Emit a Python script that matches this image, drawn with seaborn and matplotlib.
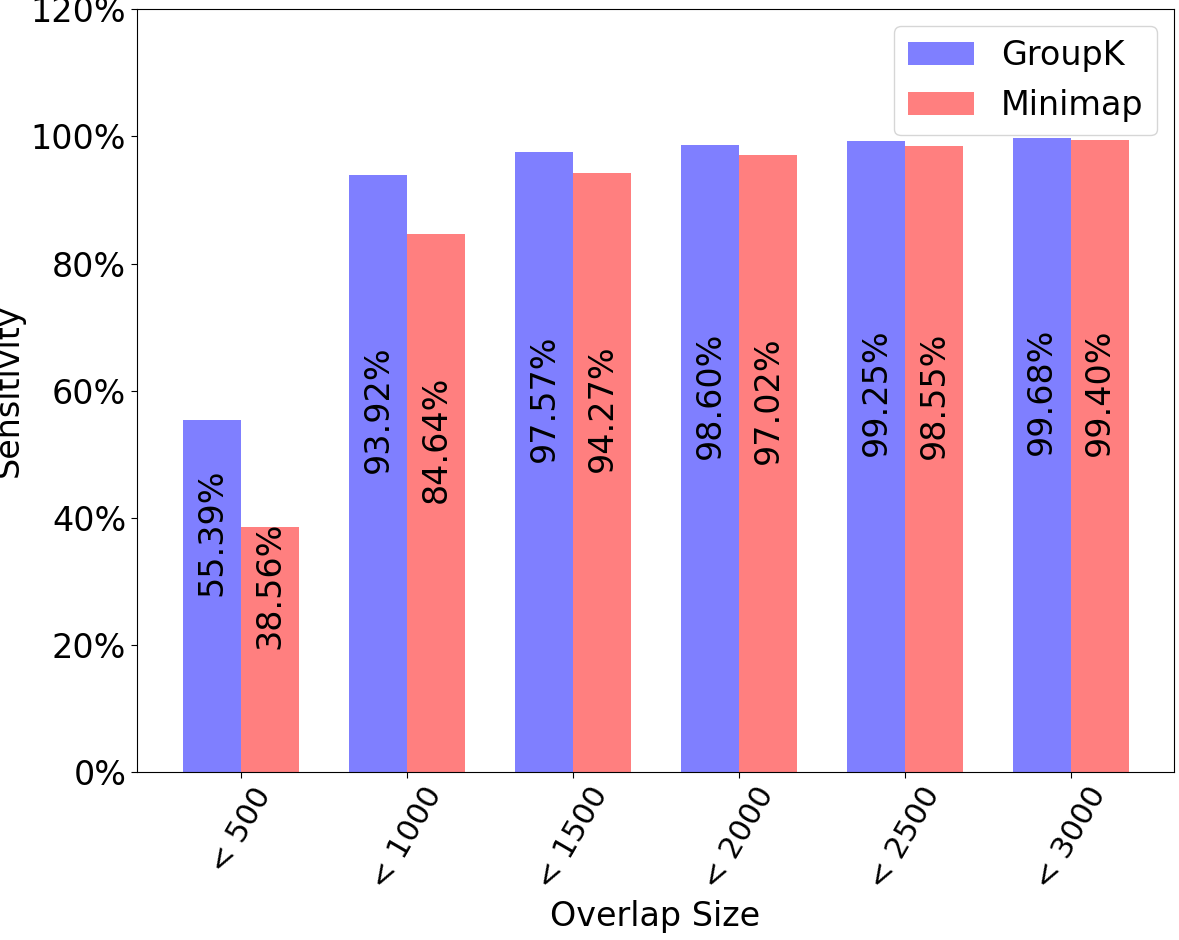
import matplotlib
matplotlib.use("Agg")
import matplotlib.pyplot as plt
import seaborn as sns
import pandas as pd

categories = ["< 500", "< 1000", "< 1500", "< 2000", "< 2500", "< 3000"]
groupk = [55.39, 93.92, 97.57, 98.60, 99.25, 99.68]
minimap = [38.56, 84.64, 94.27, 97.02, 98.55, 99.40]
series_names = ["GroupK", "Minimap"]
yticks = [0, 20, 40, 60, 80, 100, 120]

df = pd.DataFrame({
    "cat": categories * 2,
    "val": groupk + minimap,
    "tool": [series_names[0]] * len(categories) + [series_names[1]] * len(categories),
})

sns.set_style("white")
plt.rcParams["font.family"] = ["DejaVu Sans"]
plt.rcParams.update({
    "text.color": "black",
    "axes.labelcolor": "black",
    "xtick.color": "black",
    "ytick.color": "black",
    "axes.edgecolor": "black",
})

fig = plt.figure(figsize=(11.79, 9.4), dpi=100)
ax = fig.add_axes([0.116, 0.179, 0.8795, 0.811])

sns.barplot(data=df, x="cat", y="val", hue="tool", order=categories,
            hue_order=series_names, palette=["blue", "red"], alpha=0.5,
            width=0.7, linewidth=0, ax=ax, errorbar=None, saturation=1)

for cont in ax.containers:
    for bar in cont:
        h = bar.get_height()
        ax.text(bar.get_x() + bar.get_width() / 2, h / 2, f"{h:.2f}%",
                rotation=90, ha="center", va="bottom", fontsize=24, color="black")

ax.set_xlim(-0.63, 5.62)
ax.set_ylim(0, 120)
ax.set_yticks(yticks)
ax.set_yticklabels([f"{t}%" for t in yticks], fontsize=24)
ax.set_xticks(range(len(categories)))
ax.set_xticklabels(categories, rotation=60, fontsize=22)
ax.set_xlabel("Overlap Size", fontsize=24)
ax.set_ylabel("Sensitivity", fontsize=24)
ax.tick_params(axis="both", which="both", length=4, color="black", left=True, bottom=True)
for s in ax.spines.values():
    s.set_visible(True)
    s.set_color("black")
    s.set_linewidth(0.8)

leg = ax.legend(loc="upper right", fontsize=24, title=None)
for t in leg.get_texts():
    t.set_color("black")

fig.savefig("out.png", dpi=100)
